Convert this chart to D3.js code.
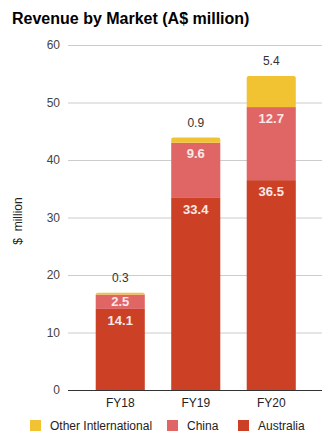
<!DOCTYPE html>
<html><head><meta charset="utf-8">
<script src="https://cdn.jsdelivr.net/npm/d3@7"></script>
<style>body{margin:0;background:#fff;} svg{display:block;font-family:Arial,"Liberation Sans",sans-serif;}</style>
</head><body>
<svg id="c" width="335" height="443"></svg>
<script>
const categories = ["FY18","FY19","FY20"];
const australia = [14.1, 33.4, 36.5];
const china = [2.5, 9.6, 12.7];
const otherIntl = [0.3, 0.9, 5.4];
const seriesNames = ["Other Intlernational","China","Australia"];
const seriesColors = ["#f1c232","#e06666","#cc4125"];
const yTicks = [0,10,20,30,40,50,60];

const FONT = 'Arial,"Liberation Sans",sans-serif';
const svg = d3.select("#c");
const x = d3.scaleBand().domain(categories).range([82.5,309]).paddingInner(0.35).paddingOuter(0.175);
const y = d3.scaleLinear().domain([0,60]).range([390,45]);

svg.append("text").attr("x",12).attr("y",24).attr("font-size",16).attr("font-weight","bold").attr("fill","#000").text("Revenue by Market (A$ million)");

// grid
const yAxis = d3.axisLeft(y).tickValues(yTicks).tickSize(-(322-68)).tickPadding(8);
const gy = svg.append("g").attr("transform","translate(68,0)").call(yAxis);
gy.select(".domain").remove();
gy.selectAll(".tick line").attr("stroke","#cccccc");
gy.selectAll(".tick text").attr("font-size",12).attr("fill","#444").attr("font-family",FONT);

svg.append("text").attr("transform","translate(22,221) rotate(-90)").attr("text-anchor","middle").attr("font-size",12).attr("fill","#222").attr("xml:space","preserve").style("white-space","pre").text("$  million");

const data = categories.map((c,i)=>({cat:c, vals:[australia[i], china[i], otherIntl[i]]}));
const colorOrder = ["#cc4125","#e06666","#f1c232"];
data.forEach(d=>{
  let base=0;
  d.vals.forEach((v,j)=>{
    const y0=y(base), y1=y(base+v);
    const isTop = j===d.vals.length-1;
    const g = svg.append("g");
    if(isTop){
      const r=2, xx=x(d.cat), w=x.bandwidth();
      g.append("path").attr("d",`M${xx},${y0}V${y1+r}Q${xx},${y1} ${xx+r},${y1}H${xx+w-r}Q${xx+w},${y1} ${xx+w},${y1+r}V${y0}Z`).attr("fill",colorOrder[j]);
      svg.append("text").attr("x",xx+w/2).attr("y",y1-11).attr("text-anchor","middle").attr("font-size",12).attr("fill","#333").text(v.toFixed(1));
    } else {
      g.append("rect").attr("x",x(d.cat)).attr("y",y1).attr("width",x.bandwidth()).attr("height",y0-y1).attr("fill",colorOrder[j]);
      const h=y0-y1;
      const cy = y1 + Math.min(11, h/2);
      svg.append("text").attr("x",x(d.cat)+x.bandwidth()/2).attr("y",cy).attr("dy","0.36em").attr("text-anchor","middle").attr("font-size",13).attr("font-weight","bold").attr("fill","#fbe9e7").text(v.toFixed(1));
    }
    base+=v;
  });
});

// baseline
svg.append("line").attr("x1",68).attr("x2",322).attr("y1",390.5).attr("y2",390.5).attr("stroke","#333").attr("stroke-width",1);
const xAxis = d3.axisBottom(x).tickSize(0).tickPadding(8);
const gx = svg.append("g").attr("transform","translate(0,390)").call(xAxis);
gx.select(".domain").remove();
gx.selectAll(".tick text").attr("font-size",12).attr("fill","#222").attr("font-family",FONT);

// legend
const legendX = [30,167,238];
seriesNames.forEach((n,i)=>{
  svg.append("rect").attr("x",legendX[i]).attr("y",420).attr("width",11).attr("height",11).attr("fill",seriesColors[i]);
  svg.append("text").attr("x",legendX[i]+20).attr("y",429.5).attr("font-size",12).attr("fill","#222").text(n);
});
</script>
</body></html>
